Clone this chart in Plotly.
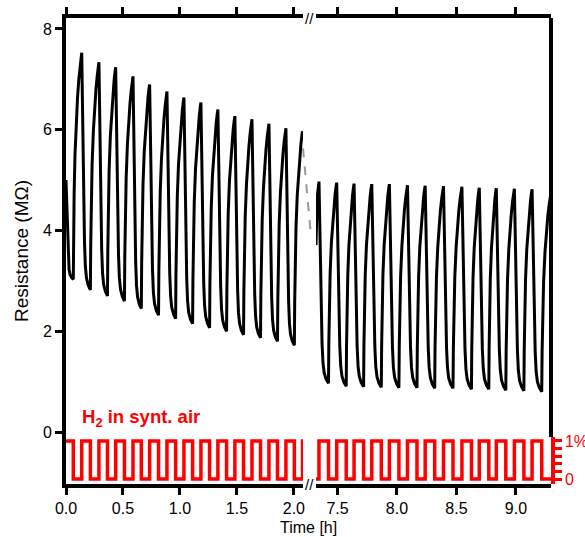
import plotly.graph_objects as go

# ---------------- data ----------------
# Left segment (0 - 2.08 h)
left_peak_t = [0.138, 0.289, 0.436, 0.588, 0.734, 0.886, 1.035, 1.184, 1.333, 1.482, 1.632, 1.781, 1.930, 2.076]
left_peak_R = [7.53, 7.34, 7.24, 7.06, 6.90, 6.76, 6.64, 6.54, 6.40, 6.27, 6.21, 6.12, 6.03, 5.97]
left_min_t = [0.064, 0.214, 0.364, 0.513, 0.661, 0.812, 0.962, 1.111, 1.260, 1.409, 1.558, 1.707, 1.856, 2.004]
left_min_R = [3.03, 2.82, 2.70, 2.60, 2.45, 2.32, 2.25, 2.15, 2.07, 2.00, 1.93, 1.87, 1.80, 1.72]
left_start = (0.0, 5.0)

# Right segment (7.32 - 9.30 h)
right_peak_t = [7.344, 7.493, 7.639, 7.788, 7.936, 8.088, 8.237, 8.391, 8.546, 8.692, 8.835, 8.987, 9.136]
right_peak_R = [4.97, 4.95, 4.93, 4.92, 4.92, 4.90, 4.89, 4.88, 4.87, 4.85, 4.84, 4.83, 4.82]
right_min_t = [7.424, 7.573, 7.719, 7.868, 8.016, 8.168, 8.317, 8.471, 8.626, 8.772, 8.915, 9.067, 9.217]
right_min_R = [0.97, 0.91, 0.90, 0.89, 0.88, 0.88, 0.87, 0.87, 0.85, 0.85, 0.83, 0.82, 0.80]
right_start = (7.319, 3.71)
right_end = (9.295, 4.75)

# dashed grey connector across the axis break (start / end resistance)
gap_connector_R = [5.63, 3.90]

# shape of one recovery (H2 off) and one response (H2 on) read from a single cycle
# (fraction of segment duration, fraction of the swing)
RISE = [(0, 0), (0.04, 0.2), (0.1, 0.38), (0.2, 0.55), (0.35, 0.70), (0.5, 0.80),
        (0.65, 0.88), (0.8, 0.94), (0.92, 0.98), (1, 1)]
DROP = [(0, 1), (0.08, 0.8), (0.16, 0.55), (0.24, 0.35), (0.32, 0.2), (0.42, 0.1),
        (0.55, 0.05), (0.75, 0.02), (1, 0)]

x_left_range = [0, 2.08]
x_right_range = [7.319, 9.295]
y_range = [-1.032, 8.218]

x_left_ticks = [0, 0.5, 1.0, 1.5, 2.0]
x_right_ticks = [7.5, 8.0, 8.5, 9.0]
y_ticks = [0, 2, 4, 6, 8]
h2_ticks = [0, 1.0]
h2_ticktext = ["0", "1%"]
h2_minor_ticks = [0.2, 0.4, 0.6, 0.8]


def segment(t0, r0, t1, r1, prof, falling):
    xs, ys = [], []
    for f, lv in prof:
        xs.append(t0 + f * (t1 - t0))
        if falling:
            ys.append(r1 + lv * (r0 - r1))
        else:
            ys.append(r0 + lv * (r1 - r0))
    return xs, ys


def build(keys):
    X, Y = [], []
    for (ta, ra, ka), (tb, rb, kb) in zip(keys[:-1], keys[1:]):
        if ka == "max":
            xs, ys = segment(ta, ra, tb, rb, DROP, True)
        else:
            xs, ys = segment(ta, ra, tb, rb, RISE, False)
        if X:
            xs, ys = xs[1:], ys[1:]
        X += xs
        Y += ys
    return X, Y


left_keys = [(left_start[0], left_start[1], "max")]
for i in range(len(left_peak_t)):
    left_keys.append((left_min_t[i], left_min_R[i], "min"))
    left_keys.append((left_peak_t[i], left_peak_R[i], "max"))
LX, LY = build(left_keys)

right_keys = [(right_start[0], right_start[1], "min")]
for i in range(len(right_peak_t)):
    right_keys.append((right_peak_t[i], right_peak_R[i], "max"))
    right_keys.append((right_min_t[i], right_min_R[i], "min"))
right_keys.append((right_end[0], right_end[1], "max"))
RX, RY = build(right_keys)


def h2_steps(start, on_t, off_t, end, start_level):
    ev = sorted([(t, 1) for t in on_t] + [(t, 0) for t in off_t])
    xs, ys = [start], [start_level]
    for t, lv in ev:
        if start < t <= end:
            xs.append(t)
            ys.append(lv)
    xs.append(end)
    ys.append(ys[-1])
    return xs, ys


HLX, HLY = h2_steps(x_left_range[0], left_peak_t, left_min_t, x_left_range[1], 1)
HRX, HRY = h2_steps(x_right_range[0], right_peak_t, right_min_t, x_right_range[1], 0)

# ---------------- figure ----------------
BLACK = "black"
RED = "#ff0000"
FONT = "Liberation Sans, Arial, sans-serif"

fig = go.Figure()
fig.add_trace(go.Scatter(x=LX, y=LY, mode="lines", line=dict(color=BLACK, width=3),
                         xaxis="x", yaxis="y", showlegend=False, hoverinfo="skip"))
fig.add_trace(go.Scatter(x=RX, y=RY, mode="lines", line=dict(color=BLACK, width=3),
                         xaxis="x2", yaxis="y", showlegend=False, hoverinfo="skip"))
fig.add_trace(go.Scatter(x=HLX, y=HLY, mode="lines", line=dict(color=RED, width=3.5, shape="hv"),
                         xaxis="x", yaxis="y3", showlegend=False, hoverinfo="skip"))
fig.add_trace(go.Scatter(x=HRX, y=HRY, mode="lines", line=dict(color=RED, width=3.5, shape="hv"),
                         xaxis="x2", yaxis="y3", showlegend=False, hoverinfo="skip"))

left_dom = [0, 0.4887]
right_dom = [0.5155, 1.0]
h2_dom = [0, 0.1009]

xcommon = dict(showline=True, linewidth=4, linecolor=BLACK, mirror="ticks", ticks="outside",
               ticklen=7, tickwidth=3, tickcolor=BLACK, showgrid=False, zeroline=False,
               tickfont=dict(size=16, color=BLACK), anchor="y", automargin=False)

fig.update_layout(
    template="none",
    width=585, height=537,
    margin=dict(l=66, r=34, t=18, b=53, autoexpand=False),
    paper_bgcolor="white", plot_bgcolor="white",
    font=dict(family=FONT, size=16, color=BLACK),
    xaxis=dict(domain=left_dom, range=x_left_range, tickvals=x_left_ticks,
               ticktext=[f"{v:.1f}" for v in x_left_ticks], **xcommon),
    xaxis2=dict(domain=right_dom, range=x_right_range, tickvals=x_right_ticks,
                ticktext=[f"{v:.1f}" for v in x_right_ticks], **xcommon),
    yaxis=dict(domain=[0, 1], range=y_range, tickvals=y_ticks, anchor="x", automargin=False,
               showline=True, linewidth=4, linecolor=BLACK, ticks="outside", ticklen=7,
               tickwidth=3, tickcolor=BLACK, showgrid=False, zeroline=False,
               tickfont=dict(size=16, color=BLACK),
               title=dict(text="Resistance (MΩ)", font=dict(size=19), standoff=10)),
    yaxis3=dict(domain=h2_dom, range=[-0.13, 1.105], anchor="x2", side="right", automargin=False,
                tickvals=h2_ticks, ticktext=h2_ticktext, showline=True, linewidth=3.5,
                linecolor=RED, ticks="outside", ticklen=7, tickwidth=3, tickcolor=RED,
                minor=dict(tickvals=h2_minor_ticks, ticks="outside", ticklen=7, tickwidth=3,
                           tickcolor=RED, showgrid=False),
                showgrid=False, zeroline=False, tickfont=dict(size=16, color=RED)),
)

# right black frame above the red H2 axis
fig.add_shape(type="line", xref="paper", yref="paper", x0=1, x1=1, y0=h2_dom[1], y1=1,
              line=dict(color=BLACK, width=4))
# dashed connector across the break
fig.add_shape(type="line", xref="paper", yref="y", x0=left_dom[1], x1=0.505,
              y0=gap_connector_R[0], y1=gap_connector_R[1],
              line=dict(color="#999999", width=2, dash="dash"))

brk_x = (left_dom[1] + right_dom[0]) / 2
for yy in (0, 1):
    fig.add_annotation(x=brk_x, y=yy, xref="paper", yref="paper", text="//", showarrow=False,
                       font=dict(size=15, color=BLACK), xanchor="center", yanchor="middle")

fig.add_annotation(x=0.5, y=-0.094, xref="paper", yref="paper", text="Time [h]",
                   showarrow=False, font=dict(size=16, color=BLACK), xanchor="center",
                   yanchor="middle")
fig.add_annotation(x=0.029, y=0.28, xref="paper", yref="y",
                   text="<b>H<sub>2</sub> in synt. air</b>", showarrow=False,
                   font=dict(size=18.5, color=RED), xanchor="left", yanchor="middle")

# remove the default page-body margin so the 585x537 figure fills the window exactly
fig.write_html("out.html",
               config={"displayModeBar": False},
               post_script="document.body.style.margin='0px';document.body.style.overflow='hidden';")
